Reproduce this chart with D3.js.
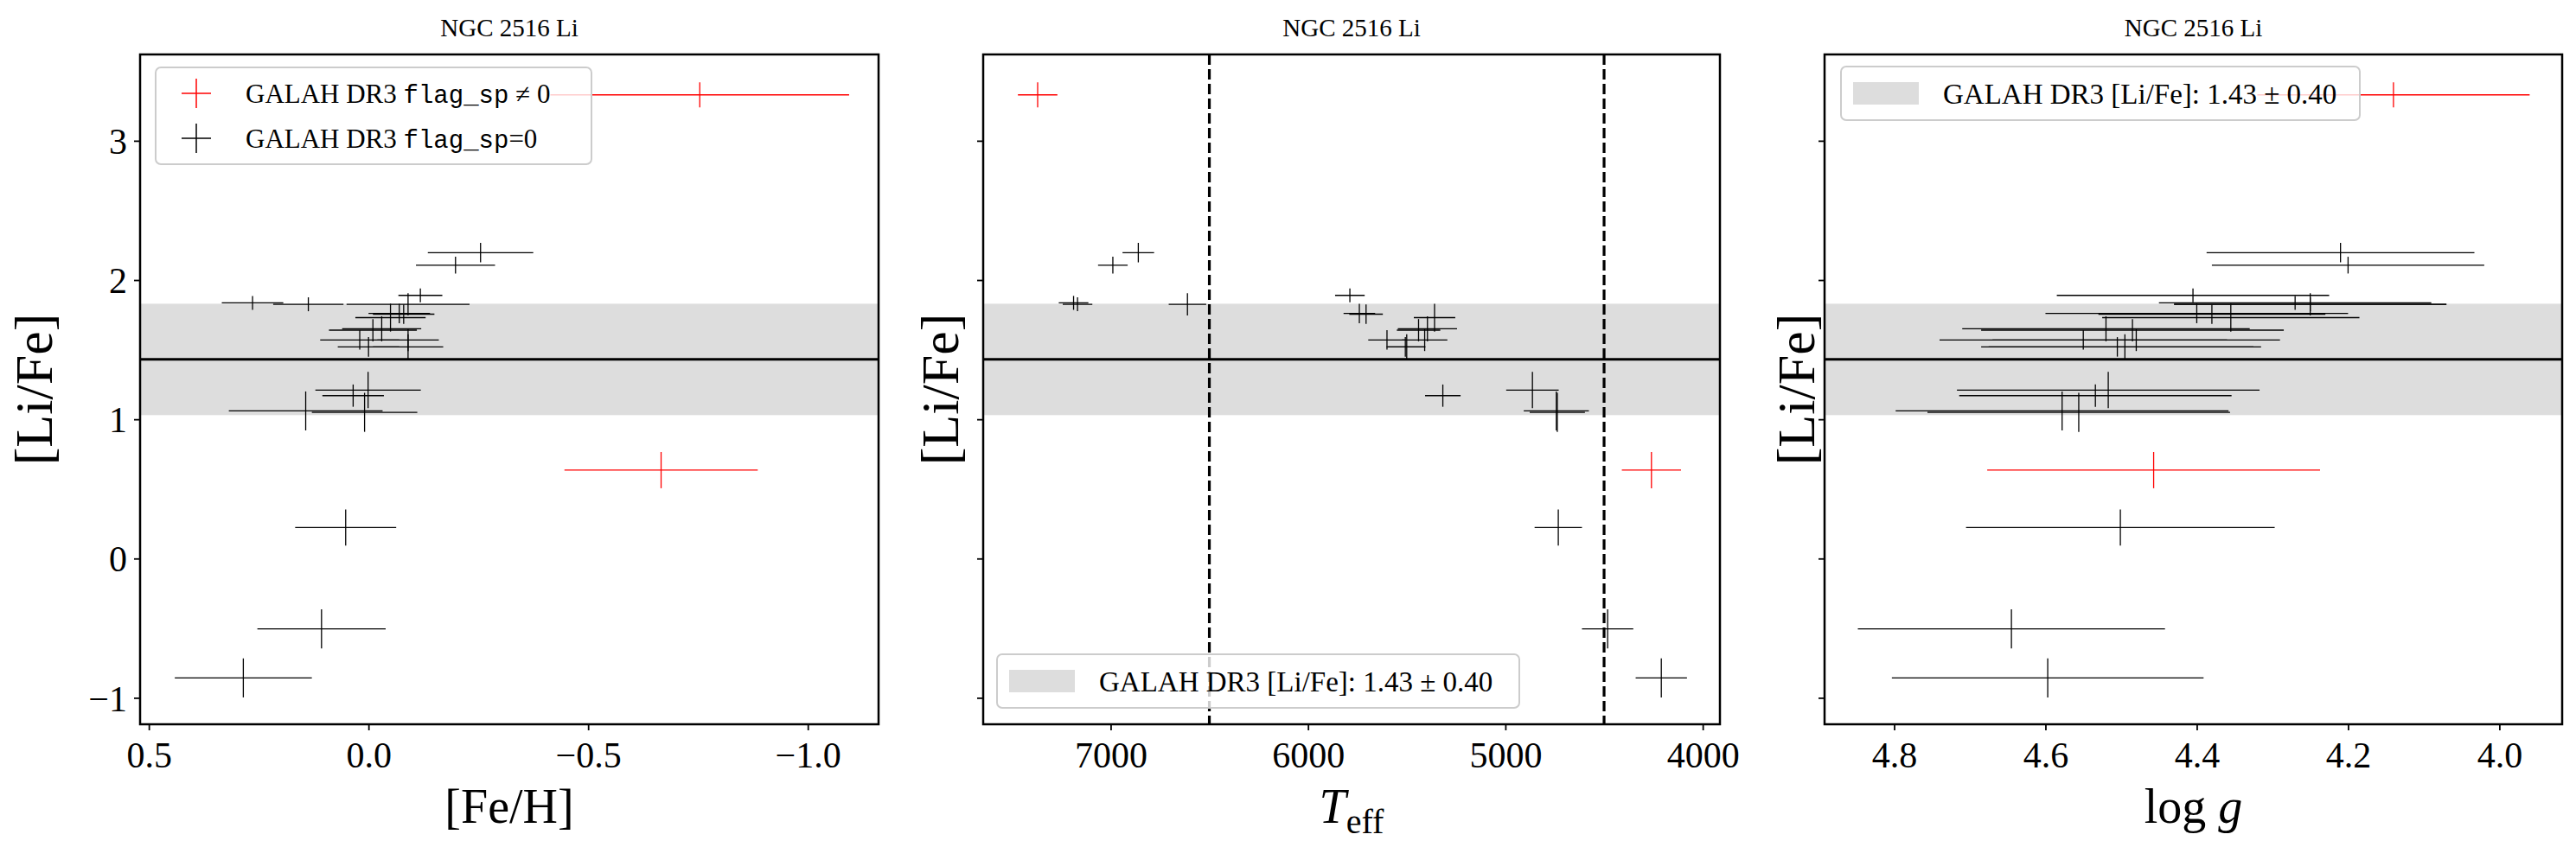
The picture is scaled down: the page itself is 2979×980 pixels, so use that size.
<!DOCTYPE html>
<html><head><meta charset="utf-8">
<script src="https://cdn.jsdelivr.net/npm/d3@7"></script>
<style>body{margin:0;background:#fff}text{font-family:"Liberation Serif","DejaVu Serif",serif}</style>
</head><body><svg id="c" width="2979" height="980"></svg>
<script>
// star data: [Li/Fe], err, [Fe/H], err, Teff, err, logg, err, flagged
const li     = [3.33,0.635,-0.857,-0.505,0.223,1.21,1.17,1.06,1.05,2.197,2.107,1.89,1.836,1.826,1.826,1.76,1.755,1.73,1.65,1.64,1.57,1.57,1.52,1.52];
const liErr  = [0.09,0.13,0.14,0.14,0.13,0.13,0.08,0.14,0.14,0.07,0.06,0.05,0.05,0.05,0.08,0.07,0.07,0.1,0.09,0.08,0.07,0.08,0.07,0.09];
const feh    = [-0.754,-0.666,0.285,0.107,0.052,0.001,0.035,0.143,0.009,-0.255,-0.198,-0.118,0.264,0.137,-0.09,-0.07,-0.08,-0.05,-0.03,-0.01,0.02,-0.09,0.0,-0.09];
const fehErr = [0.34,0.22,0.156,0.146,0.115,0.12,0.07,0.175,0.12,0.12,0.09,0.05,0.07,0.08,0.14,0.07,0.07,0.08,0.09,0.1,0.09,0.07,0.07,0.08];
const teff   = [7370,4260,4210,4482,4732,4863,5317,4742,4737,6860,6989,5788,7188,7168,6611,5740,5706,5359,5395,5440,5600,5409,5507,5500];
const teffErr= [100,150,130,130,120,133,90,165,140,80,75,75,75,75,95,80,85,105,150,110,95,115,95,95];
const logg   = [4.14,4.457,4.597,4.645,4.501,4.517,4.534,4.578,4.556,4.21,4.20,4.405,4.27,4.25,4.25,4.40,4.38,4.355,4.52,4.485,4.55,4.48,4.505,4.495];
const loggErr= [0.18,0.22,0.206,0.203,0.204,0.2,0.18,0.22,0.2,0.177,0.18,0.18,0.18,0.18,0.18,0.2,0.15,0.17,0.19,0.2,0.19,0.19,0.18,0.18];
const flagged= [1,1,0,0,0,0,0,0,0,0,0,0,0,0,0,0,0,0,0,0,0,0,0,0];
const bandMean = 1.43, bandSd = 0.40;
const yTicks = [-1,0,1,2,3];
const teffCuts = [6500,4500];

const svg = d3.select("#c");
const yTop=63, yBot=838;
const y = d3.scaleLinear().domain([-1.19,3.62]).range([yBot,yTop]);

const panels = [
 {x0:162,x1:1016,dom:[0.52,-1.161],vals:feh,errs:fehErr,ticks:[0.5,0,-0.5,-1.0],fmt:d3.format(".1f"),label:"[Fe/H]",ylabels:true,ylx:40,legend:"flags"},
 {x0:1137,x1:1989,dom:[7646,3913],vals:teff,errs:teffErr,ticks:[7000,6000,5000,4000],fmt:d3.format("d"),label:"teff",ylabels:false,ylx:1088,legend:"bandBottom"},
 {x0:2110,x1:2963,dom:[4.892,3.917],vals:logg,errs:loggErr,ticks:[4.8,4.6,4.4,4.2,4.0],fmt:d3.format(".1f"),label:"logg",ylabels:false,ylx:2078,legend:"bandTop"}
];
const minus = s=>s.replace("-","\u2212");

panels.forEach(p=>{
  const x = d3.scaleLinear().domain(p.dom).range([p.x0,p.x1]);
  const g = svg.append("g");
  g.append("rect").attr("x",p.x0).attr("width",p.x1-p.x0).attr("y",y(bandMean+bandSd)).attr("height",y(bandMean-bandSd)-y(bandMean+bandSd)).attr("fill","#dddddd");
  g.append("line").attr("x1",p.x0).attr("x2",p.x1).attr("y1",y(bandMean)).attr("y2",y(bandMean)).attr("stroke","#000").attr("stroke-width",3);
  if(p.label==="teff") teffCuts.forEach(t=>g.append("line").attr("x1",x(t)).attr("x2",x(t)).attr("y1",yTop).attr("y2",yBot).attr("stroke","#000").attr("stroke-width",3.2).attr("stroke-dasharray","12,5"));
  d3.range(li.length).forEach(i=>{
    const col = flagged[i]?"#ff0000":"#000";
    g.append("line").attr("x1",Math.max(p.x0,x(p.vals[i]+p.errs[i]))).attr("x2",Math.min(p.x1,x(p.vals[i]-p.errs[i]))).attr("y1",y(li[i])).attr("y2",y(li[i])).attr("stroke",col).attr("stroke-width",1.3);
    g.append("line").attr("x1",x(p.vals[i])).attr("x2",x(p.vals[i])).attr("y1",y(li[i]+liErr[i])).attr("y2",y(li[i]-liErr[i])).attr("stroke",col).attr("stroke-width",1.3);
  });
  g.append("rect").attr("x",p.x0).attr("y",yTop).attr("width",p.x1-p.x0).attr("height",yBot-yTop).attr("fill","none").attr("stroke","#000").attr("stroke-width",2.5);
  const xa = g.append("g").attr("transform",`translate(0,${yBot})`).call(d3.axisBottom(x).tickValues(p.ticks).tickFormat(d=>minus(p.fmt(d))).tickSize(7));
  const ya = g.append("g").attr("transform",`translate(${p.x0},0)`).call(d3.axisLeft(y).tickValues(yTicks).tickFormat(d=>p.ylabels?minus(d3.format("d")(d)):"").tickSize(7));
  [xa,ya].forEach(a=>{a.select(".domain").remove();a.selectAll("line").attr("stroke-width",1.8);a.selectAll("text").attr("font-size",42).attr("font-family","Liberation Serif");});
  xa.selectAll("text").attr("dy","0.95em");
  ya.selectAll("text").attr("dx","-0.12em").attr("dy","0.35em");
  const cx=(p.x0+p.x1)/2;
  g.append("text").attr("x",cx).attr("y",42).attr("text-anchor","middle").attr("font-size",29).text("NGC 2516 Li");
  g.append("text").attr("transform",`translate(${p.ylx+20},${(yTop+yBot)/2}) rotate(-90)`).attr("text-anchor","middle").attr("font-size",62).text("[Li/Fe]");
  const xl = g.append("text").attr("x",cx).attr("y",952).attr("text-anchor","middle").attr("font-size",56);
  if(p.label==="teff"){xl.append("tspan").attr("font-style","italic").text("T");xl.append("tspan").attr("font-size",40).attr("dy",12).text("eff");}
  else if(p.label==="logg"){xl.append("tspan").text("log ");xl.append("tspan").attr("font-style","italic").text("g");}
  else xl.text(p.label);
  const legBox=(lx,ly,w,h)=>g.append("rect").attr("x",lx).attr("y",ly).attr("width",w).attr("height",h).attr("rx",6).attr("fill","rgba(255,255,255,0.8)").attr("stroke","#ccc").attr("stroke-width",2);
  const bandEntry=(lx,ly)=>{
    g.append("rect").attr("x",lx+14).attr("y",ly+18).attr("width",76).attr("height",26).attr("fill","#dddddd");
    g.append("text").attr("x",lx+118).attr("y",ly+43).attr("font-size",33).text("GALAH DR3 [Li/Fe]:  1.43 \u00b1 0.40");
  };
  if(p.legend==="flags"){
    const lx=180,ly=78; legBox(lx,ly,504,112);
    [["#ff0000","GALAH DR3 ","flag_sp"," \u2260 0"],["#000","GALAH DR3 ","flag_sp","=0"]].forEach((e,k)=>{
      const yy=ly+30+k*52;
      g.append("line").attr("x1",lx+30).attr("x2",lx+64).attr("y1",yy).attr("y2",yy).attr("stroke",e[0]).attr("stroke-width",1.5);
      g.append("line").attr("x1",lx+47).attr("x2",lx+47).attr("y1",yy-17).attr("y2",yy+17).attr("stroke",e[0]).attr("stroke-width",1.5);
      const t=g.append("text").attr("x",lx+104).attr("y",yy+11).attr("font-size",31);
      t.append("tspan").text(e[1]);t.append("tspan").attr("font-family","Liberation Mono").attr("font-size",29).text(e[2]);t.append("tspan").text(e[3]);
    });
  } else if(p.legend==="bandBottom"){ const lx=1153,ly=757; legBox(lx,ly,604,62); bandEntry(lx,ly); }
  else { const lx=2129,ly=77; legBox(lx,ly,600,62); bandEntry(lx,ly); }
});
</script></body></html>
